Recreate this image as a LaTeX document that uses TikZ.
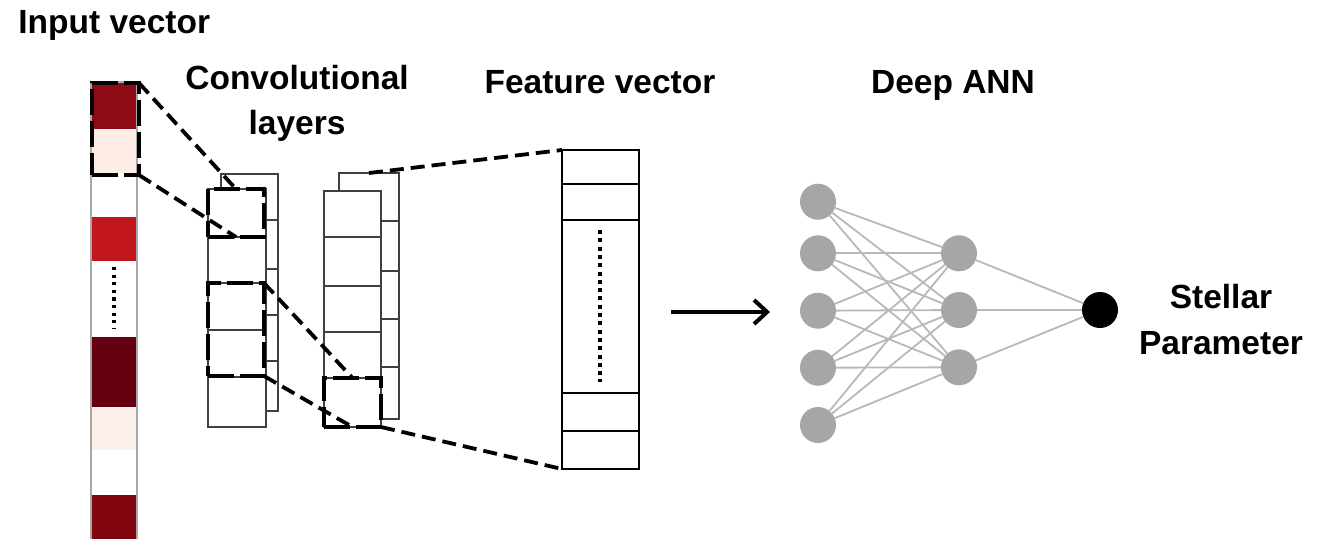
\documentclass[tikz,border=0pt]{standalone}
\usepackage{fontspec}
\setmainfont{Liberation Sans}
\usetikzlibrary{arrows.meta}
\definecolor{cellA}{HTML}{8E0A14}
\definecolor{cellB}{HTML}{FDEDE5}
\definecolor{cellC}{HTML}{C2161D}
\definecolor{cellD}{HTML}{660010}
\definecolor{cellE}{HTML}{FDF0EA}
\definecolor{cellF}{HTML}{80050F}
\definecolor{colborder}{HTML}{A8A8A8}
\definecolor{layerline}{HTML}{404040}
\definecolor{neuron}{HTML}{A6A6A6}
\definecolor{synapse}{HTML}{B8B8B8}
\tikzset{
  lbl/.style={font=\fontsize{16.75pt}{20pt}\selectfont\bfseries, inner sep=0pt, anchor=base},
  cell/.style={rectangle, inner sep=0pt, outer sep=0pt, minimum width=22pt},
  layerbox/.style={rectangle, draw=layerline, line width=0.7pt, fill=white, inner sep=0pt, outer sep=0pt},
  featbox/.style={rectangle, draw=black, line width=1pt, fill=white, inner sep=0pt, outer sep=0pt},
  kernel/.style={rectangle, draw=black, line width=2.4pt, dash pattern=on 13pt off 3pt, inner sep=0pt, outer sep=0pt},
  zoomline/.style={draw=black, line width=1.9pt, dash pattern=on 7pt off 3.5pt},
  dotline/.style={draw=black, line width=1.8pt, dash pattern=on 1.6pt off 2.2pt},
  neu/.style={circle, fill=neuron, minimum size=18pt, inner sep=0pt, outer sep=0pt},
  outneu/.style={circle, fill=black, minimum size=18pt, inner sep=0pt, outer sep=0pt},
  syn/.style={draw=synapse, line width=0.9pt},
  bigarrow/.style={draw=black, line width=2pt, -{Straight Barb[length=6.5pt,width=12pt,line width=2pt]}}
}
\begin{document}
\begin{tikzpicture}[x=0.5pt, y=-0.5pt]
\useasboundingbox (0,0) rectangle (1329,538);

% ---- titles
\node[lbl, anchor=base west] (tIn) at (18,33) {Input vector};
\node[lbl] (tConvA) at (297,89) {Convolutional};
\node[lbl] (tConvB) at (297,134) {layers};
\node[lbl] (tFeat) at (600,93) {Feature vector};
\node[lbl] (tAnn) at (953,93) {Deep ANN};
\node[lbl] (tOutA) at (1221,308) {Stellar};
\node[lbl] (tOutB) at (1221,354) {Parameter};

% ---- input vector column
\node[cell, fill=cellA, minimum height=23pt]   (in1) at (114,106) {};
\node[cell, fill=cellB, minimum height=22pt]   (in2) at (114,151) {};
\node[cell, fill=white, minimum height=22pt]   (in3) at (114,195) {};
\node[cell, fill=cellC, minimum height=22pt]   (in4) at (114,239) {};
\node[cell, fill=white, minimum height=38pt]   (in5) at (114,299) {};
\node[cell, fill=cellD, minimum height=35pt]   (in6) at (114,372) {};
\node[cell, fill=cellE, minimum height=21.5pt] (in7) at (114,428.5) {};
\node[cell, fill=white, minimum height=22.5pt] (in8) at (114,472.5) {};
\node[cell, fill=cellF, minimum height=25pt]   (in9) at (114,520) {};
\node[rectangle, draw=colborder, line width=1pt, minimum width=23pt, minimum height=239pt, inner sep=0pt] (incol) at (114,321) {};
\draw[dotline] (114,267) -- (114,329);
\node[kernel, minimum width=23.5pt, minimum height=46pt] (inK) at (115.5,129) {};

% ---- first convolutional layer
\node[layerbox, minimum width=28.5pt, minimum height=118.5pt] (c1back) at (249.5,292.5) {};
\foreach \yy in {220,269,315,361} \draw[layerline, line width=0.7pt] (266,\yy) -- (278,\yy);
\node[layerbox, minimum width=29pt, minimum height=119pt] (c1front) at (237,308) {};
\foreach \yy in {237,283,330,377} \draw[layerline, line width=0.7pt] (208,\yy) -- (266,\yy);
\node[kernel, minimum width=28pt, minimum height=24pt] (c1K1) at (236,213) {};
\node[kernel, minimum width=28pt, minimum height=46.5pt] (c1K2) at (236,329.5) {};

% ---- second convolutional layer
\node[layerbox, minimum width=30pt, minimum height=123pt] (c2back) at (369,296) {};
\foreach \yy in {221,271,319,367} \draw[layerline, line width=0.7pt] (381,\yy) -- (399,\yy);
\node[layerbox, minimum width=28.5pt, minimum height=118pt] (c2front) at (352.5,309) {};
\foreach \yy in {237,286,332,378} \draw[layerline, line width=0.7pt] (324,\yy) -- (381,\yy);
\node[kernel, minimum width=28.5pt, minimum height=24.5pt] (c2K) at (352.5,402.5) {};

% ---- feature vector
\node[featbox, minimum width=38.5pt, minimum height=159.5pt] (feat) at (600.5,309.5) {};
\foreach \yy in {184,220,393,431} \draw[black, line width=1pt] (562,\yy) -- (639,\yy);
\draw[dotline, dash pattern=on 2pt off 2.15pt] (600,230) -- (600,382);

% ---- receptive-field projections
\draw[zoomline] (inK.north east) -- (c1K1.north);
\draw[zoomline] (inK.south east) -- (c1K1.south);
\draw[zoomline] (c1K2.north east) -- (c2K.north);
\draw[zoomline] (c1K2.south east) -- (c2K.south);
\draw[zoomline] (c2back.north) -- (feat.north west);
\draw[zoomline] (c2K.south east) -- (feat.south west);

% ---- arrow to the network
\coordinate (arrS) at (671,312);
\coordinate (arrE) at (770,312);
\draw[bigarrow] (arrS) -- (arrE);

% ---- fully connected network
\node[neu] (i1) at (818,201.7) {};
\node[neu] (i2) at (818,253.3) {};
\node[neu] (i3) at (818,310.7) {};
\node[neu] (i4) at (818,367.7) {};
\node[neu] (i5) at (818,425) {};
\node[neu] (h1) at (959,253.3) {};
\node[neu] (h2) at (959,310) {};
\node[neu] (h3) at (959,367.3) {};
\node[outneu] (o) at (1100,310) {};
\foreach \a in {i1,i2,i3,i4,i5}
  \foreach \b in {h1,h2,h3}
    \draw[syn] (\a) -- (\b);
\foreach \b in {h1,h2,h3} \draw[syn] (\b) -- (o);
\end{tikzpicture}
\end{document}
